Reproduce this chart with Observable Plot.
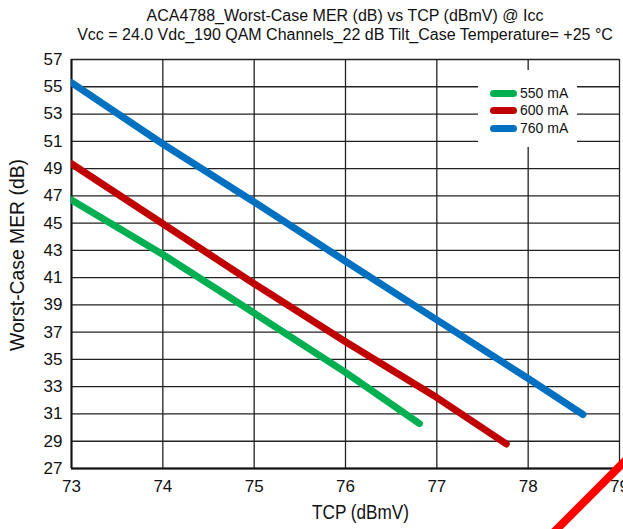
<!DOCTYPE html>
<html>
<head>
<meta charset="utf-8">
<script src="https://cdn.jsdelivr.net/npm/d3@7"></script>
<script src="https://cdn.jsdelivr.net/npm/@observablehq/plot@0.6"></script>
<style>
  body { margin: 0; background: #fff; }
  #wrap { position: relative; width: 623px; height: 529px; overflow: hidden; background: #fff;
          font-family: "Liberation Sans", Arial, sans-serif; color: #111; }
  #title { position: absolute; left: 0; width: 690px; top: 7px; text-align: center;
           font-size: 16px; line-height: 18.5px; white-space: nowrap; }
  #chart { position: absolute; left: 0; top: 50px; }
  #legend { position: absolute; left: 478px; top: 70px; width: 99px; height: 77px; background: #fff; }
  .item { position: absolute; left: 12px; height: 14px; display: flex; align-items: center; font-size: 14px; }
  .sw { width: 27px; height: 7px; border-radius: 4px; margin-right: 3px; }
  #mark { position: absolute; left: 0; top: 0; pointer-events: none; }
</style>
</head>
<body>
<div id="wrap">
  <div id="title"></div>
  <div id="chart"></div>
  <div id="legend"></div>
  <svg id="mark" width="623" height="529"><line x1="551" y1="535" x2="630" y2="456" stroke="#ff0000" stroke-width="8"/></svg>
</div>
<script>
// ---- data ----
const titleLines = [
  "ACA4788_Worst-Case MER (dB) vs TCP (dBmV) @ Icc",
  "Vcc = 24.0 Vdc_190 QAM Channels_22 dB Tilt_Case Temperature= +25 °C"
];
const xLabel = "TCP (dBmV)";
const yLabel = "Worst-Case MER (dB)";
const xTicks = [73, 74, 75, 76, 77, 78, 79];
const yTicks = [27, 29, 31, 33, 35, 37, 39, 41, 43, 45, 47, 49, 51, 53, 55, 57];
const seriesNames = ["550 mA", "600 mA", "760 mA"];
const seriesColors = ["#00b050", "#c00000", "#0070c0"];

const tcp550 = [73, 74, 75, 76, 76.81];
const mer550 = [46.7, 42.7, 38.4, 34.05, 30.3];
const tcp600 = [73, 74, 75, 76, 77, 77.76];
const mer600 = [49.35, 44.95, 40.55, 36.3, 32.2, 28.8];
const tcp760 = [73, 74, 75, 76, 77, 78, 78.6];
const mer760 = [55.3, 50.8, 46.55, 42.2, 37.9, 33.6, 30.96];

// ---- build table ----
const data = [];
[[tcp550, mer550], [tcp600, mer600], [tcp760, mer760]].forEach(([xs, ys], i) => {
  xs.forEach((x, j) => data.push({series: seriesNames[i], tcp: x, mer: ys[j]}));
});

document.getElementById("title").innerHTML = titleLines.map(t => `<div>${t}</div>`).join("");

const chart = Plot.plot({
  width: 623,
  height: 479,
  marginTop: 9,
  marginBottom: 61,
  marginLeft: 71,
  marginRight: 4,
  style: { fontFamily: '"Liberation Sans", Arial, sans-serif', fontSize: "17px", color: "#111", background: "transparent", overflow: "visible" },
  x: { domain: [73, 79], ticks: xTicks },
  y: { domain: [27, 57], ticks: yTicks },
  color: { domain: seriesNames, range: seriesColors },
  marks: [
    Plot.gridX(xTicks, { stroke: "#222", strokeOpacity: 1, strokeWidth: 1.3 }),
    Plot.gridY(yTicks, { stroke: "#222", strokeOpacity: 1, strokeWidth: 1.3 }),
    Plot.ruleX([73], { stroke: "#111", strokeWidth: 2 }),
    Plot.ruleY([27], { stroke: "#111", strokeWidth: 2 }),
    Plot.axisX(xTicks, { tickSize: 0, tickPadding: 11, fontSize: 17, label: null }),
    Plot.axisY(yTicks, { tickSize: 0, tickPadding: 9, fontSize: 17, label: null }),
    Plot.line(data, { x: "tcp", y: "mer", z: "series", stroke: "series", strokeWidth: 7,
                      strokeLinecap: "round", strokeLinejoin: "round", clip: true }),
    Plot.text([xLabel], { frameAnchor: "bottom", textAnchor: "middle", lineAnchor: "middle",
                          dx: 15, dy: 44, fontSize: 21, className: "xlab" }),
    Plot.text([yLabel], { frameAnchor: "left", textAnchor: "middle", lineAnchor: "middle",
                          dx: -54, dy: -9, rotate: -90, fontSize: 21, className: "ylab" })
  ]
});
document.getElementById("chart").appendChild(chart);

// condensed look for the axis titles
const fit = (sel, len) => {
  chart.querySelectorAll(sel + " text").forEach(t => {
    t.setAttribute("textLength", len);
    t.setAttribute("lengthAdjust", "spacingAndGlyphs");
  });
};
fit(".xlab", 97);
fit(".ylab", 192);

// legend
const lg = document.getElementById("legend");
const legendY = [23, 40, 58];
seriesNames.forEach((name, i) => {
  const it = document.createElement("div");
  it.className = "item";
  it.style.top = (legendY[i] - 7) + "px";
  it.innerHTML = `<span class="sw" style="background:${seriesColors[i]}"></span><span>${name}</span>`;
  lg.appendChild(it);
});
</script>
</body>
</html>
